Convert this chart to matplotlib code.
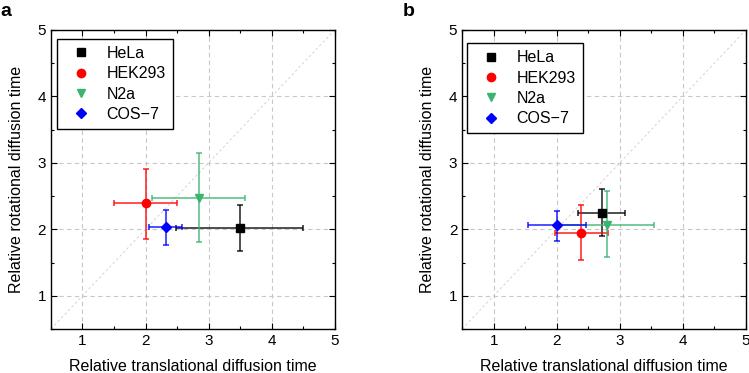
import matplotlib
matplotlib.use("Agg")
import matplotlib.pyplot as plt
from matplotlib.ticker import MultipleLocator

plt.rcParams["font.family"] = ["Liberation Sans", "DejaVu Sans"]

CELLS = ["HeLa", "HEK293", "N2a", "COS-7"]
LEGEND_LABELS = ["HeLa", "HEK293", "N2a", "COS\u22127"]
COLORS = ["#000000", "#FF0000", "#3CB371", "#0000FF"]
MARKERS = ["s", "o", "v", "D"]

# panel a
A_X = [3.49, 2.00, 2.84, 2.32]
A_Y = [2.02, 2.39, 2.47, 2.03]
A_XLO = [2.49, 1.50, 2.11, 2.05]
A_XHI = [4.49, 2.50, 3.58, 2.57]
A_YLO = [1.68, 1.86, 1.81, 1.77]
A_YHI = [2.37, 2.90, 3.15, 2.29]

# panel b
B_X = [2.72, 2.39, 2.79, 2.00]
B_Y = [2.25, 1.94, 2.07, 2.07]
B_XLO = [2.34, 1.97, 2.04, 1.54]
B_XHI = [3.08, 2.82, 3.54, 2.47]
B_YLO = [1.90, 1.54, 1.58, 1.83]
B_YHI = [2.61, 2.36, 2.57, 2.28]

TICKS = [1, 2, 3, 4, 5]


def draw_panel(ax, xs, ys, xlo, xhi, ylo, yhi, legend_anchor):
    ax.plot([0.5, 5], [0.5, 5], color="#CCCCCC", linestyle=(0, (3, 3)), linewidth=0.6, zorder=1)
    for i in range(len(CELLS)):
        ax.errorbar(
            xs[i], ys[i],
            xerr=[[xs[i] - xlo[i]], [xhi[i] - xs[i]]],
            yerr=[[ys[i] - ylo[i]], [yhi[i] - ys[i]]],
            fmt="none", ecolor=COLORS[i], alpha=0.75, elinewidth=1.3,
            capsize=2.5, capthick=1.3, zorder=3,
        )
        ax.plot(xs[i], ys[i], marker=MARKERS[i], color=COLORS[i], linestyle="none",
                markersize=6 if MARKERS[i] != "D" else 5.5, zorder=4, label=LEGEND_LABELS[i])
    ax.set_xlim(0.5, 5)
    ax.set_ylim(0.5, 5)
    ax.set_xticks(TICKS)
    ax.set_yticks(TICKS)
    ax.xaxis.set_minor_locator(MultipleLocator(0.5))
    ax.yaxis.set_minor_locator(MultipleLocator(0.5))
    ax.tick_params(which="both", direction="in", top=True, right=True, labelsize=11)
    ax.tick_params(which="major", length=4, width=0.8)
    ax.tick_params(which="minor", length=2.5, width=0.8)
    ax.grid(True, which="major", color="#C8C8C8", linestyle=(0, (4, 3)), linewidth=0.8, zorder=0)
    ax.set_axisbelow(True)
    ax.set_xlabel("Relative translational diffusion time", fontsize=11.5, labelpad=8)
    ax.set_ylabel("Relative rotational diffusion time", fontsize=11.5, labelpad=10)
    for spine in ax.spines.values():
        spine.set_linewidth(1.0)
    leg = ax.legend(loc="upper left", bbox_to_anchor=legend_anchor, fontsize=11.5,
                    frameon=True, fancybox=False, edgecolor="black", framealpha=1,
                    handlelength=2.1, handletextpad=0.55, borderpad=0.45, labelspacing=0.33,
                    borderaxespad=0)
    leg.get_frame().set_linewidth(1.0)


fig = plt.figure(figsize=(7.49, 3.73), dpi=100)
ax_a = fig.add_axes([0.068, 0.118, 0.379, 0.802])
ax_b = fig.add_axes([0.617, 0.118, 0.379, 0.802])
draw_panel(ax_a, A_X, A_Y, A_XLO, A_XHI, A_YLO, A_YHI, (0.022, 0.97))
draw_panel(ax_b, B_X, B_Y, B_XLO, B_XHI, B_YLO, B_YHI, (0.017, 0.955))
fig.text(0.0, 0.97, "a", fontsize=14, fontweight="bold", va="center")
fig.text(0.537, 0.97, "b", fontsize=14, fontweight="bold", va="center")
fig.savefig("out.png", dpi=100)
